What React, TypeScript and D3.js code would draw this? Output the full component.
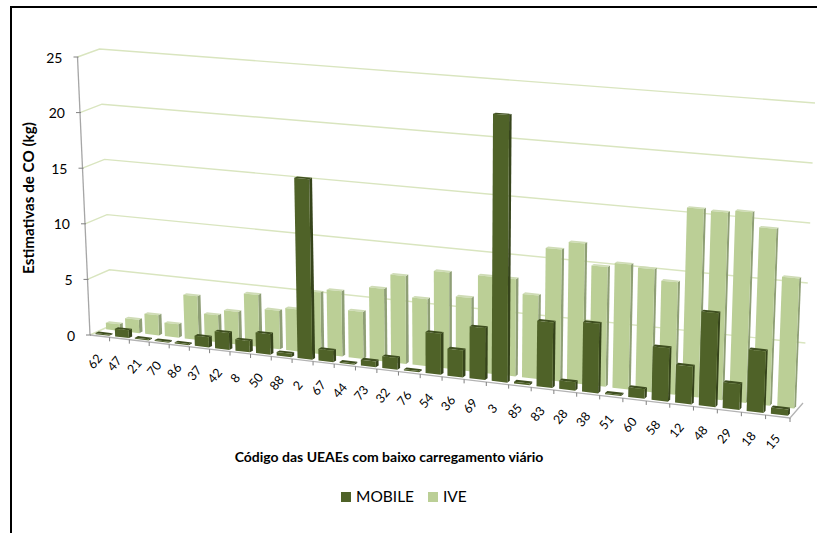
import React from "react";
import * as d3 from "d3";

const categories = ["62","47","21","70","86","37","42","8","50","88","2","67","44","73","32","76","54","36","69","3","85","83","28","38","51","60","58","12","48","29","18","15"];
const mobile = [0.1,0.7,0.1,0.1,0.1,0.9,1.5,1.0,1.8,0.3,15.7,1.0,0.1,0.5,1.0,0.1,3.5,2.3,4.4,22.6,0.15,5.5,0.7,5.8,0.1,0.8,4.4,3.1,7.7,2.1,5.0,0.5];
const ive = [0.6,1.2,1.8,1.2,3.9,2.4,2.9,4.6,3.4,3.7,5.4,5.7,4.1,6.3,7.6,5.8,8.3,6.3,8.3,8.3,7.1,11.2,11.9,10.1,10.5,10.3,9.4,15.7,15.6,15.8,14.6,10.7];
const yTicks = [0,5,10,15,20,25];
const FONT = "Lato, 'Open Sans', sans-serif";

// floor corners: front-left, front-right, back-left, back-right
const fx = d3.scaleLinear().domain([0,1]).range([90,790]);
const fy = d3.scaleLinear().domain([0,1]).range([335,418]);
const bx = d3.scaleLinear().domain([0,1]).range([112,803]);
const by = d3.scaleLinear().domain([0,1]).range([325,403]);
const unitFront = d3.scaleLinear().domain([0,1]).range([11.12,12.4]);
const unitBack = d3.scaleLinear().domain([0,1]).range([11.04,12.0]);
const lean = d3.scaleLinear().domain([0,1]).range([-0.5,0.48]);
const band = d3.scaleBand<number>().domain(d3.range(categories.length)).range([0,1]).paddingInner(0.3).paddingOuter(0.15);
const R = 1.12;
const warp = (t:number)=> t/(t+(1-t)*R);

function P(t:number,v:number,val:number):[number,number]{
  const u = warp(t);
  const x = fx(u)+(bx(u)-fx(u))*v + lean(u)*val;
  const y0 = fy(u)+(by(u)-fy(u))*v;
  const k = unitFront(u)+(unitBack(u)-unitFront(u))*v;
  return [x, y0-k*val];
}
const pts=(a:[number,number][])=>a.map(p=>p.map(n=>n.toFixed(2)).join(",")).join(" ");

function Bar({i,val,v0,v1,front,side,top}:{i:number,val:number,v0:number,v1:number,front:string,side:string,top:string}){
  const a=band(i)!, b=a+band.bandwidth();
  return <g>
    <polygon points={pts([P(b,v0,0),P(b,v1,0),P(b,v1,val),P(b,v0,val)])} fill={side}/>
    <polygon points={pts([P(a,v0,val),P(b,v0,val),P(b,v1,val),P(a,v1,val)])} fill={top}/>
    <polygon points={pts([P(a,v0,0),P(b,v0,0),P(b,v0,val),P(a,v0,val)])} fill={front}/>
  </g>;
}

export default function App(){
  return <svg width={817} height={533} style={{position:"absolute",left:0,top:0,background:"#fff"}}>
    <path d="M817,7 H11 V533" fill="none" stroke="#000" strokeWidth={2}/>
    {yTicks.map(t=><polyline key={t} points={pts(t>0?[P(0,0,t),P(0,1,t),P(1,1,t)]:[P(0,0,0),P(0,1,0)])} fill="none" stroke="#d9e5bf" strokeWidth={1.4}/>)}
    {ive.map((d,i)=><Bar key={i} i={i} val={d} v0={0.6} v1={0.75} front="#bbcf96" side="#8f9f76" top="#cfdcb6"/>)}
    {mobile.map((d,i)=><Bar key={i} i={i} val={d} v0={0.12} v1={0.27} front="#4f6228" side="#36441b" top="#3f4f20"/>)}
    <line x1={P(0,0,0)[0]} y1={P(0,0,0)[1]} x2={P(0,0,25)[0]} y2={P(0,0,25)[1]} stroke="#a6a6a6" strokeWidth={1.3}/>
    <polyline points={pts([P(0,0,0),P(1,0,0),P(1,1,0)])} fill="none" stroke="#b3b3b3" strokeWidth={1.3}/>
    {yTicks.map(t=>{const p=P(0,0,t);return <g key={t}>
      <line x1={p[0]-4} y1={p[1]} x2={p[0]+1} y2={p[1]} stroke="#808080"/>
      <text x={p[0]-15} y={p[1]+2} fontFamily={FONT} fontSize={14} textAnchor="end" dominantBaseline="middle" fill="#000">{t}</text>
    </g>})}
    {categories.map((c,i)=>{const t=(i+0.5)/categories.length;const p=P(t,0,0);const e=P((i+1)/categories.length,0,0);
      return <g key={c}>
        <line x1={e[0]} y1={e[1]} x2={e[0]} y2={e[1]+4} stroke="#808080"/>
        <text transform={`translate(${p[0]-4},${p[1]+26}) rotate(-50)`} fontFamily={FONT} fontSize={12.5} textAnchor="middle" dominantBaseline="middle" fill="#000">{c}</text>
      </g>})}
    <text transform="translate(30,198) rotate(-90)" fontFamily={FONT} fontSize={15.2} fontWeight={700} textAnchor="middle" dominantBaseline="middle">Estimativas de CO (kg)</text>
    <text x={389} y={458} fontFamily={FONT} fontSize={14} fontWeight={700} textAnchor="middle" dominantBaseline="middle">Código das UEAEs com baixo carregamento viário</text>
    <rect x={341} y={492} width={10} height={10} fill="#4f6228"/>
    <text x={356} y={498} fontFamily={FONT} fontSize={15.5} dominantBaseline="middle">MOBILE</text>
    <rect x={428} y={492} width={10} height={10} fill="#bbcf96"/>
    <text x={443} y={498} fontFamily={FONT} fontSize={15.5} dominantBaseline="middle">IVE</text>
  </svg>;
}
